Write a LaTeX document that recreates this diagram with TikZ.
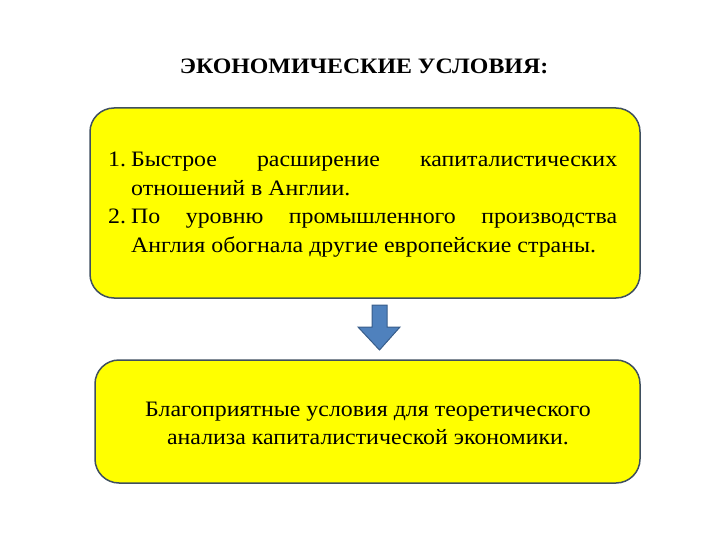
\documentclass[tikz,border=0pt]{standalone}
\usepackage{fontspec}
\setmainfont{Liberation Serif}[FakeStretch=1.085]
\definecolor{boxyellow}{HTML}{FFFF00}
\definecolor{boxedge}{HTML}{3F4F5F}
\definecolor{arrowblue}{HTML}{4F81BD}
\definecolor{arrowedge}{HTML}{385D8A}
\begin{document}
\begin{tikzpicture}[x=1pt,y=-1pt,
  ybox/.style={draw=boxedge, line width=1.5pt, fill=boxyellow, rounded corners=24pt},
  bodytext/.style={font=\fontsize{22}{28}\selectfont, inner sep=0pt},
  lineleft/.style={bodytext, anchor=base west},
  linemid/.style={bodytext, anchor=base}]
\useasboundingbox (0,0) rectangle (720,540);
\node[font=\fontsize{22}{26}\selectfont\bfseries, inner sep=0pt, anchor=base] (title) at (364,74) {ЭКОНОМИЧЕСКИЕ УСЛОВИЯ:};
\draw[ybox] (90,108) rectangle (640,298);
\node[lineleft] (n1) at (108,167) {1.};
\node[lineleft] (l1) at (131,167) {\makebox[486pt][s]{Быстрое расширение капиталистических}};
\node[lineleft] (l2) at (131,196) {отношений в Англии.};
\node[lineleft] (n2) at (108,224) {2.};
\node[lineleft] (l3) at (131,224) {\makebox[486pt][s]{По уровню промышленного производства}};
\node[lineleft] (l4) at (131,252) {Англия обогнала другие европейские страны.};
\draw[ybox] (95,360) rectangle (640,483);
\node[linemid] (r1) at (368,416) {Благоприятные условия для теоретического};
\node[linemid] (r2) at (368,444) {анализа капиталистической экономики.};
\draw[fill=arrowblue, draw=arrowedge, line width=1pt, line join=miter]
  (372,305) -- (387,305) -- (387,327) -- (400,327) -- (379.5,350) -- (358,327) -- (372,327) -- cycle;
\end{tikzpicture}
\end{document}
